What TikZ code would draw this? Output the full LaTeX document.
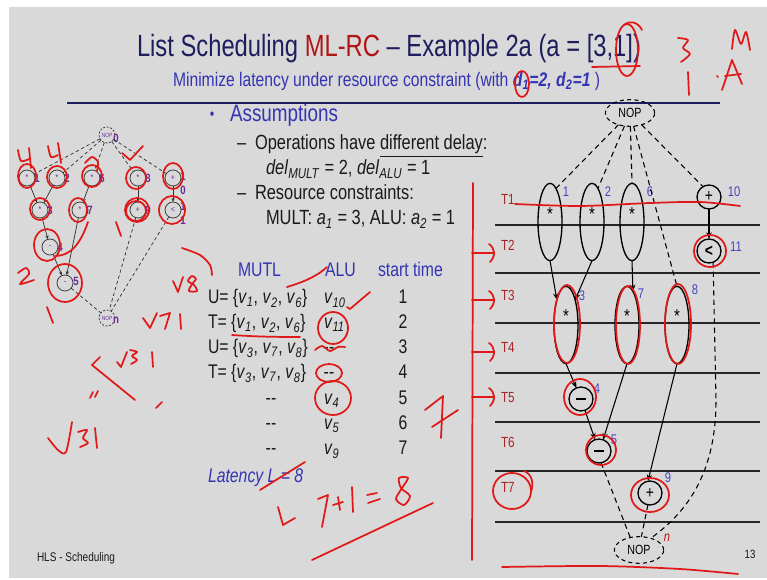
\documentclass[tikz,border=0pt]{standalone}
\usepackage{fontspec}
\setmainfont{Liberation Sans}[FakeStretch=0.8]
\newfontfamily\titlefont{Liberation Sans}[FakeStretch=0.775]
\usetikzlibrary{shapes.geometric,arrows.meta}

\definecolor{slidebg}{HTML}{D9D9D9}
\definecolor{navy}{HTML}{1E1E5E}
\definecolor{mlred}{HTML}{B01515}
\definecolor{subblue}{HTML}{3434B4}
\definecolor{txt}{HTML}{1A1A1A}
\definecolor{tlab}{HTML}{A82424}
\definecolor{numblue}{HTML}{4545C0}
\definecolor{purp}{HTML}{6A2A9A}
\definecolor{ink}{HTML}{E01818}

% operation v_i in italics
\newcommand\opv[1]{\textit{v}\textsubscript{\textit{#1}}}
\newcommand\bfit[1]{\textbf{\textit{#1}}}

\tikzset{
  ink/.style={draw=ink, line width=1.3pt, line cap=round, line join=round},
  bigop/.style={draw=black, line width=1pt, ellipse, minimum width=18pt, minimum height=58pt, inner sep=0pt},
  bigcirc/.style={draw=black, line width=1pt, circle, minimum size=18pt, inner sep=0pt, font=\fontsize{13}{13}\selectfont},
  nopnode/.style={draw=black, line width=0.8pt, dash pattern=on 3pt off 2.5pt, ellipse, minimum width=37pt, minimum height=20pt, inner sep=0pt, font=\fontsize{10}{10}\selectfont},
  dep/.style={line width=0.8pt, -{Stealth[length=5pt,width=4pt]}},
  seq/.style={line width=0.8pt, dash pattern=on 4pt off 3pt},
  timeline/.style={line width=1.5pt, draw=black!85},
  tlabel/.style={text=tlab, font=\fontsize{11}{11}\selectfont, anchor=base west},
  idx/.style={text=numblue, font=\fontsize{10.5}{10.5}\selectfont},
  mulsign/.style={font=\fontsize{14}{14}\selectfont, anchor=base},
  smallop/.style={draw=black!75, line width=0.6pt, circle, minimum size=12pt, inner sep=0pt, text=purp, font=\fontsize{6.5}{6.5}\selectfont},
  smallnop/.style={smallop, dash pattern=on 1.5pt off 1.2pt, font=\fontsize{4.5}{4.5}\selectfont},
  sidx/.style={text=purp, font=\fontsize{9}{9}\selectfont\bfseries},
  sdep/.style={line width=0.55pt, draw=black!80, -{Stealth[length=3pt,width=2.5pt]}},
  sseq/.style={line width=0.55pt, draw=black!80, dash pattern=on 2.5pt off 2pt},
  body/.style={anchor=base west, text=txt, font=\fontsize{15.4}{18}\selectfont},
  tabrow/.style={anchor=base west, text=txt, font=\fontsize{14.8}{18}\selectfont},
  tabhead/.style={anchor=base west, text=subblue, font=\fontsize{14.8}{18}\selectfont},
}

\begin{document}
\begin{tikzpicture}[x=0.75pt,y=-0.75pt, every node/.style={inner sep=0pt, outer sep=0pt}]
\useasboundingbox (0,0) rectangle (767,580);
\fill[white] (0,0) rectangle (767,580);
\fill[slidebg] (9,7) rectangle (767,578);

% ---------- heading ----------
\node[anchor=base west, font=\titlefont\fontsize{23}{26}\selectfont, text=navy] (title) at (137,57)
  {List Scheduling \textcolor{mlred}{ML-RC} – Example 2a (a = [3,1])};
\node[anchor=base west, font=\fontsize{14.7}{18}\selectfont, text=subblue] (subtitle) at (173,87)
  {Minimize latency under resource constraint (with \bfit{d}\textsubscript{\bfit{1}}\bfit{=2, d}\textsubscript{\bfit{2}}\bfit{=1} )};
\draw[line width=2.2pt, navy] (67,103) -- (720,103);

% ---------- assumptions ----------
\node[text=subblue, font=\fontsize{12}{12}\selectfont] (bul) at (212,116) {•};
\node[anchor=base west, text=subblue, font=\fontsize{17.7}{20}\selectfont] (assum) at (230,122) {Assumptions};
\node[body] (d1) at (237,150) {–};
\node[body] (l1) at (255,150) {Operations have \underline{different delay}:};
\node[body] (l2) at (266,175) {\textit{del}\textsubscript{\textit{MULT}} = 2, \textit{del}\textsubscript{\textit{ALU}} = 1};
\node[body] (d2) at (237,200) {–};
\node[body] (l3) at (255,200) {Resource constraints:};
\node[body] (l4) at (266,225) {MULT: \textit{a}\textsubscript{\textit{1}} = 3, ALU: \textit{a}\textsubscript{\textit{2}} = 1};

% ---------- schedule table ----------
\node[tabhead] (hm) at (238,277) {MUTL};
\node[tabhead] (ha) at (325,277) {ALU};
\node[tabhead] (hs) at (378,277) {start time};

\node[tabrow] (m1) at (208,304) {U= \{\opv{1}, \opv{2}, \opv{6}\}};
\node[tabrow] (m2) at (208,329) {T= \{\opv{1}, \opv{2}, \opv{6}\}};
\node[tabrow] (m3) at (208,354) {U= \{\opv{3}, \opv{7}, \opv{8}\}};
\node[tabrow] (m4) at (208,379) {T= \{\opv{3}, \opv{7}, \opv{8}\}};
\node[tabrow, anchor=base] (m5) at (271,405) {-{}-};
\node[tabrow, anchor=base] (m6) at (271,430) {-{}-};
\node[tabrow, anchor=base] (m7) at (271,455) {-{}-};

\node[tabrow] (a1) at (324,304) {\opv{10}};
\node[tabrow] (a2) at (324,329) {\opv{11}};
\node[tabrow, anchor=base] (a3) at (329,354) {-{}-};
\node[tabrow, anchor=base] (a4) at (329,379) {-{}-};
\node[tabrow] (a5) at (324,405) {\opv{4}};
\node[tabrow] (a6) at (324,430) {\opv{5}};
\node[tabrow] (a7) at (324,455) {\opv{9}};

\foreach \t/\yy in {1/304,2/329,3/354,4/379,5/405,6/430,7/455}
  \node[tabrow, anchor=base] (s\t) at (403,\yy) {\t};

\node[anchor=base west, text=subblue, font=\fontsize{14.8}{18}\selectfont\itshape] (lat) at (208,482) {Latency L = 8};

% ---------- footer ----------
\node[anchor=base west, text=txt, font=\fontsize{9.4}{10}\selectfont] (foot) at (37,561) {HLS - Scheduling};
\node[anchor=base, text=txt, font=\fontsize{9}{10}\selectfont] (page) at (750,558) {13};

% ---------- small sequencing graph ----------
\node[smallnop] (s0) at (107,135) {NOP};
\node[smallop] (s1) at (27,178) {*};
\node[smallop] (s2) at (57,178) {*};
\node[smallop] (s6) at (92,178) {*};
\node[smallop] (s8) at (138,178) {*};
\node[smallop] (s10) at (173,178) {+};
\node[smallop] (s3) at (40,210) {*};
\node[smallop] (s7) at (80,210) {*};
\node[smallop] (s9) at (138,210) {+};
\node[smallop] (s11) at (173,210) {<};
\node[smallop] (s4) at (50,247) {-};
\node[smallop] (s5) at (65,283) {-};
\node[smallnop] (sn) at (107,318) {NOP};

\node[sidx] (i0) at (116,138) {0};
\node[sidx] (i1) at (37,178) {1};
\node[sidx] (i2) at (67,178) {2};
\node[sidx] (i6) at (102,178) {6};
\node[sidx] (i8) at (148,178) {8};
\node[sidx] (i10a) at (183,176) {1};
\node[sidx] (i10b) at (183,190) {0};
\node[sidx] (i3) at (50,210) {3};
\node[sidx] (i7) at (90,210) {7};
\node[sidx] (i9) at (148,210) {9};
\node[sidx] (i11a) at (183,206) {1};
\node[sidx] (i11b) at (183,220) {1};
\node[sidx] (i4) at (60,247) {4};
\node[sidx] (i5) at (76,281) {5};
\node[sidx] (in) at (116,320) {n};

\foreach \v in {s1,s2,s6,s8,s10} \draw[sseq] (s0) -- (\v);
\draw[sdep] (s1) -- (s3);
\draw[sdep] (s2) -- (s3);
\draw[sdep] (s6) -- (s7);
\draw[sdep] (s3) -- (s4);
\draw[sdep] (s4) -- (s5);
\draw[sdep] (s7) -- (s5);
\draw[sdep] (s8) -- (s9);
\draw[sdep] (s10) -- (s11);
\foreach \v in {s5,s9,s11} \draw[sseq] (\v) -- (sn);

% ---------- scheduled graph ----------
\foreach \yy in {225,273,323,373,422,471,522}
  \draw[timeline] (495,\yy) -- (760,\yy);

\foreach \t/\yy in {1/205,2/251,3/301,4/353,5/403,6/448,7/493}
  \node[tlabel] (T\t) at (501,\yy) {T\t};

\node[nopnode] (ntop) at (630,113) {NOP};
\node[nopnode] (nbot) at (639,550) {NOP};

\node[bigop] (b1) at (550,222) {};
\node[bigop] (b2) at (592,222) {};
\node[bigop] (b6) at (632,222) {};
\node[bigcirc] (b10) at (709,197) {+};
\node[bigcirc] (b11) at (709,251) {\textbf{<}};
\node[bigop] (b3) at (566,325) {};
\node[bigop] (b7) at (627,325) {};
\node[bigop] (b8) at (677,325) {};
\node[bigcirc] (b4) at (581,399) {\rule{7pt}{1.8pt}};
\node[bigcirc] (b5) at (599,451) {\rule{7pt}{1.8pt}};
\node[bigcirc] (b9) at (650,493) {+};

\foreach \n/\xx/\yy in {b1/550/221,b2/592/221,b6/632/221,b3/566/323,b7/627/323,b8/677/323}
  \node[mulsign] (\n m) at (\xx,\yy) {*};

\node[idx] (k1) at (566,192) {1};
\node[idx] (k2) at (608,192) {2};
\node[idx] (k6) at (650,192) {6};
\node[idx] (k10) at (734,192) {10};
\node[idx] (k11) at (736,247) {11};
\node[idx] (k3) at (582,296) {3};
\node[idx] (k7) at (641,294) {7};
\node[idx] (k8) at (695,290) {8};
\node[idx] (k4) at (597,389) {4};
\node[idx] (k5) at (614,440) {5};
\node[idx] (k9) at (668,478) {9};
\node[text=ink!85!black, font=\fontsize{10.5}{10.5}\selectfont\itshape] (kn) at (667,538) {n};

\draw[seq] (ntop) -- (b1.80);
\draw[seq] (ntop) -- (b2.80);
\draw[seq] (ntop) -- (b6.north);
\draw[seq] (ntop) -- (b8.north);
\draw[seq] (ntop) -- (b10.120);

\draw[dep] (b1.south) -- (b3.110);
\draw[dep] (b2.south) -- (b3.70);
\draw[dep] (b6.south) -- (b7.80);
\draw[dep] (b10) -- (b11);
\draw[dep] (b3.south) -- (b4);
\draw[dep] (b4) -- (b5);
\draw[dep] (b7.south) -- (b5.70);
\draw[dep] (b8.south) -- (b9.100);

\draw[seq] (b5.-80) -- (nbot.125);
\draw[seq] (b9.-100) -- (nbot.80);
\draw[seq] (b11.-70) -- (716,400) .. controls (716,470) and (690,510) .. (nbot.45);

% ---------- hand annotations (red ink) ----------
% heading
\draw[ink] (627,50) ellipse [x radius=11, y radius=26];
\draw[ink] (624,25) .. controls (630,20) and (638,22) .. (642,30);
\draw[ink] (592,67) -- (640,66);
\draw[ink] plot[smooth] coordinates {(678,38) (688,40) (683,48) (690,54) (681,62)};
\draw[ink] (688,72) -- (689,95);
\draw[ink] plot[smooth] coordinates {(732,49) (735,30) (741,44) (746,32) (750,50)};
\draw[ink] (722,90) -- (732,60) -- (742,84);
\draw[ink] (725,76) -- (741,74);
\draw[ink] (717,76) -- (718,77);
\draw[ink] (522,84) ellipse [x radius=7, y radius=13];

% across T1 and time-step bracket
\draw[ink] plot[smooth] coordinates {(515,204) (580,206) (650,203) (700,202) (740,206)};
\draw[ink] (473,183) -- (472,560);
\foreach \yy in {253,300,352,397} {
  \draw[ink] (472,\yy) -- (494,\yy);
  \draw[ink] (489,\yy-9) .. controls (495,\yy-5) and (496,\yy+3) .. (490,\yy+9);
}
\draw[ink] (425,410) -- (443,396) -- (441,438);
\draw[ink] (432,427) -- (458,410);

% graph markings
\draw[ink] (710,251) ellipse [x radius=16, y radius=16];
\draw[ink] (567,324) ellipse [x radius=13, y radius=39];
\draw[ink] (628,325) ellipse [x radius=12, y radius=39];
\draw[ink] (678,324) ellipse [x radius=13, y radius=40];
\draw[ink] (580,397) ellipse [x radius=16, y radius=18];
\draw[ink] (601,450) ellipse [x radius=15, y radius=15];
\draw[ink] (650,495) ellipse [x radius=19, y radius=17];
\draw[ink] (512,491) ellipse [x radius=19, y radius=18];
\draw[ink] (524,471) .. controls (532,474) and (534,483) .. (531,492);
\draw[ink] plot[smooth] coordinates {(502,567) (600,566) (680,569) (738,574)};

% table markings
\draw[ink] (287,287) .. controls (300,283) and (315,278) .. (327,267);
\draw[ink] (347,307) -- (350,309) -- (370,292);
\draw[ink] (333,328) ellipse [x radius=15, y radius=16];
\draw[ink] (232,335) .. controls (260,337) and (285,337) .. (300,337);
\draw[ink] plot[smooth] coordinates {(315,350) (322,346) (330,351) (338,347) (345,347)};
\draw[ink] (329,373) ellipse [x radius=13, y radius=9];
\draw[ink] (333,398) ellipse [x radius=18, y radius=17];
\draw[ink] (260,490) -- (305,462);
\draw[ink] (278,507) -- (283,525) -- (295,518);
\draw[ink] (318,499) -- (328,495) -- (322,527);
\draw[ink] (333,505) -- (343,502);
\draw[ink] (338,497) -- (340,510);
\draw[ink] (352,487) -- (353,512);
\draw[ink] (367,495) -- (377,493);
\draw[ink] (368,503) -- (380,499);
\draw[ink] plot[smooth cycle] coordinates {(408,478) (399,478) (401,488) (410,496) (404,505) (396,499) (402,488)};
\draw[ink] (312,560) -- (433,503);

% small-graph markings
\draw[ink] (27,176) ellipse [x radius=9, y radius=12];
\draw[ink] (57,177) ellipse [x radius=10, y radius=11];
\draw[ink] (92,176) ellipse [x radius=10, y radius=11];
\draw[ink] (136,178) ellipse [x radius=10, y radius=11];
\draw[ink] (173,176) ellipse [x radius=10, y radius=13];
\draw[ink] (40,209) ellipse [x radius=10, y radius=11];
\draw[ink] (78,210) ellipse [x radius=9, y radius=12];
\draw[ink] (137,210) ellipse [x radius=12, y radius=12];
\draw[ink] (136,211) ellipse [x radius=10, y radius=10];
\draw[ink] (172,210) ellipse [x radius=13, y radius=14];
\draw[ink] (47,245) ellipse [x radius=13, y radius=16];
\draw[ink] (55,256) .. controls (70,256) and (80,245) .. (88,222);
\draw[ink] (65,283) ellipse [x radius=17, y radius=19];
\draw[ink] plot[smooth] coordinates {(18,150) (21,161) (29,159)};
\draw[ink] (29,148) -- (31,168);
\draw[ink] plot[smooth] coordinates {(48,146) (51,157) (58,155)};
\draw[ink] (58,143) -- (61,163);
\draw[ink] plot[smooth] coordinates {(85,163) (92,157) (98,162) (97,171)};
\draw[ink] (122,153) -- (130,160) -- (143,146);
\draw[ink] (116,222) -- (121,236);
\draw[ink] plot[smooth] coordinates {(18,273) (26,268) (29,274) (20,284) (34,280)};
\draw[ink] (47,307) -- (53,323);
\draw[ink] plot[smooth] coordinates {(182,248) (200,255) (210,265) (212,275)};
\draw[ink] (173,281) -- (178,292) -- (183,277);
\draw[ink] plot[smooth cycle] coordinates {(192,276) (188,281) (194,285) (197,291) (189,291) (192,284) (196,279)};
\draw[ink] (143,318) -- (150,328) -- (157,313);
\draw[ink] (160,316) -- (170,313) -- (165,329);
\draw[ink] (180,314) -- (181,329);
\draw[ink] (100,357) -- (92,365) -- (135,400);
\draw[ink] (117,362) -- (121,367) -- (127,352);
\draw[ink] plot[smooth] coordinates {(130,350) (137,352) (132,356) (137,360) (131,364)};
\draw[ink] (152,352) -- (153,367);
\draw[ink] (156,408) -- (162,402);
\draw[ink] (90,398) -- (93,392);
\draw[ink] (95,397) -- (98,391);
\draw[ink] plot[smooth] coordinates {(48,438) (58,450) (66,452) (72,422)};
\draw[ink] plot[smooth] coordinates {(78,432) (87,430) (83,438) (88,443) (80,447)};
\draw[ink] (95,428) -- (97,448);
\end{tikzpicture}
\end{document}
